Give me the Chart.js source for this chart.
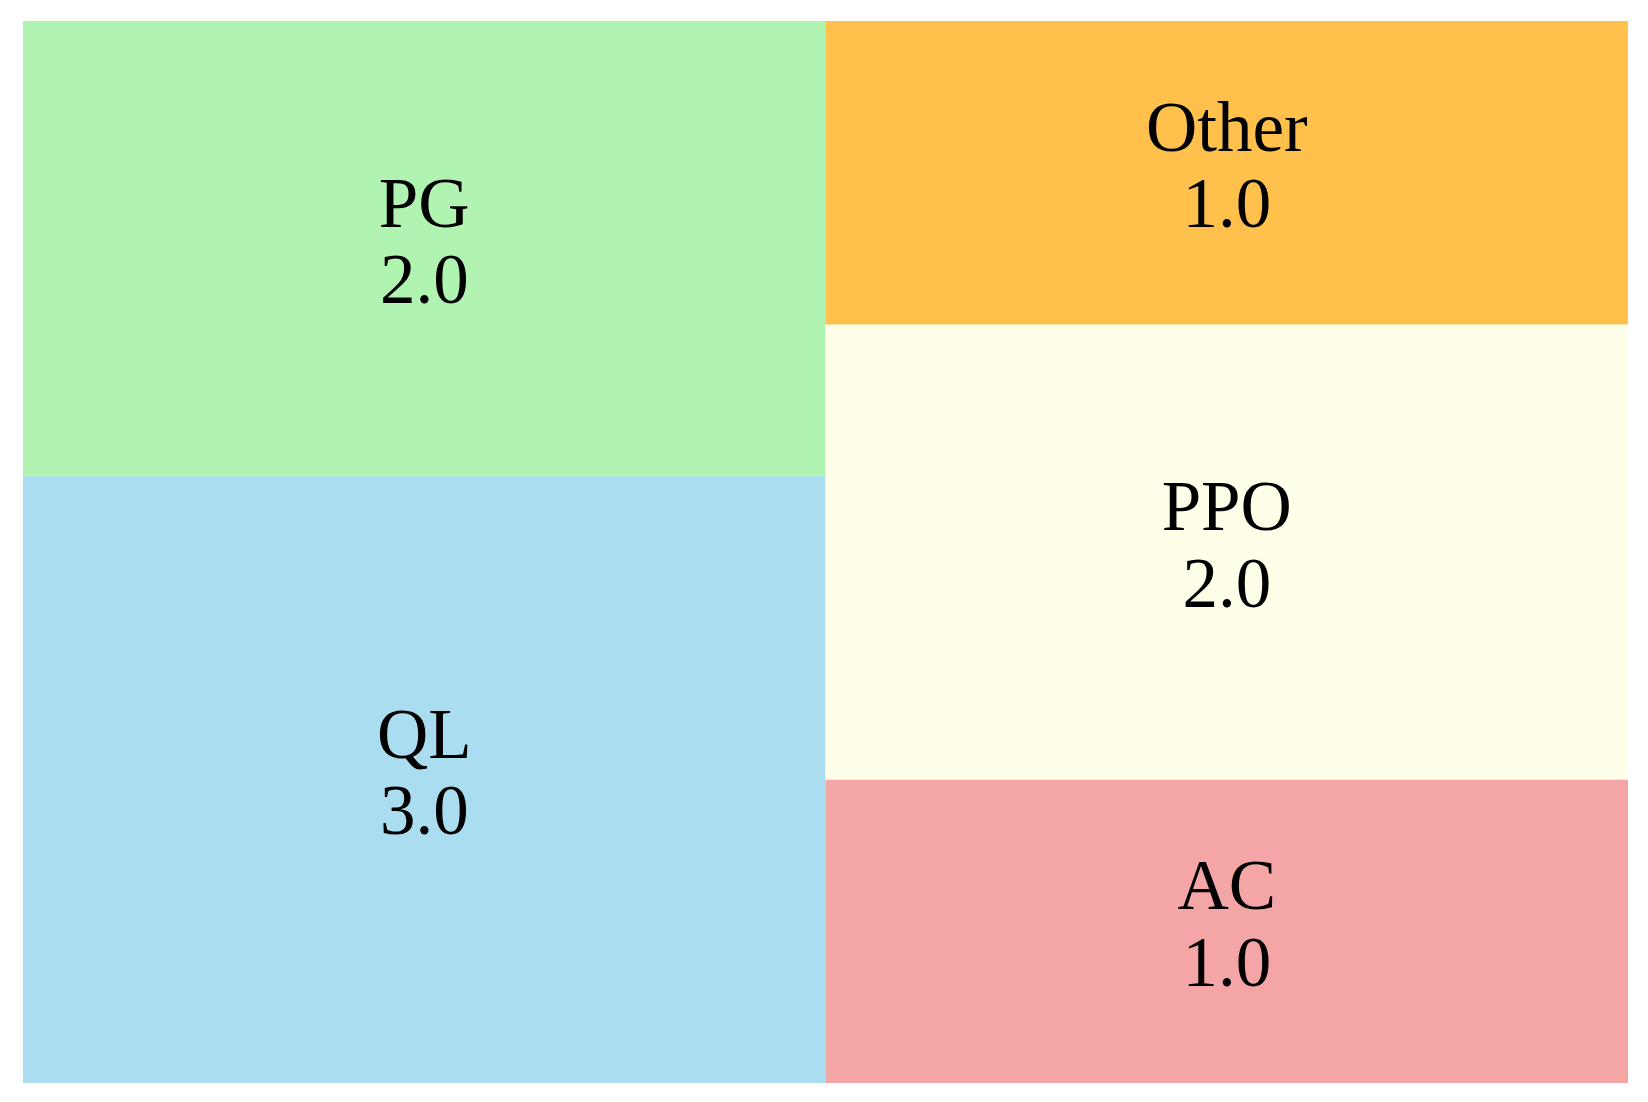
<!DOCTYPE html>
<html>
<head>
<meta charset="utf-8">
<script src="https://cdn.jsdelivr.net/npm/chart.js@4/dist/chart.umd.min.js"></script>
<style>
  html, body { margin: 0; padding: 0; background: #ffffff; }
  #wrap { width: 1648px; height: 1102px; }
</style>
</head>
<body>
<div id="wrap"><canvas id="c" width="1648" height="1102"></canvas></div>
<script>
// Data (order as laid out by squarify)
const categories = ['QL', 'PG', 'AC', 'PPO', 'Other'];
const labelValues = [3.0, 2.0, 1.0, 2.0, 1.0];   // values printed in the tiles
const tileSizes = [4, 3, 2, 3, 2];               // relative tile areas as measured
const tileColors = ['#87CEEB', '#90EE90', '#F08080', '#FFFFE0', '#FFA500'];
const tileAlpha = 0.7;

// squarify layout (same algorithm as python squarify), in data units 0..100
function normalize(sizes, dx, dy) {
  const total = sizes.reduce((a, b) => a + b, 0);
  return sizes.map(s => s * dx * dy / total);
}
function layoutrow(sizes, x, y, dx, dy) {
  const covered = sizes.reduce((a, b) => a + b, 0);
  const width = covered / dy;
  const rects = [];
  for (const s of sizes) { rects.push({x: x, y: y, dx: width, dy: s / width}); y += s / width; }
  return rects;
}
function layoutcol(sizes, x, y, dx, dy) {
  const covered = sizes.reduce((a, b) => a + b, 0);
  const height = covered / dx;
  const rects = [];
  for (const s of sizes) { rects.push({x: x, y: y, dx: s / height, dy: height}); x += s / height; }
  return rects;
}
function layout(sizes, x, y, dx, dy) {
  return dx >= dy ? layoutrow(sizes, x, y, dx, dy) : layoutcol(sizes, x, y, dx, dy);
}
function leftoverrow(sizes, x, y, dx, dy) {
  const covered = sizes.reduce((a, b) => a + b, 0);
  const width = covered / dy;
  return [x + width, y, dx - width, dy];
}
function leftovercol(sizes, x, y, dx, dy) {
  const covered = sizes.reduce((a, b) => a + b, 0);
  const height = covered / dx;
  return [x, y + height, dx, dy - height];
}
function leftover(sizes, x, y, dx, dy) {
  return dx >= dy ? leftoverrow(sizes, x, y, dx, dy) : leftovercol(sizes, x, y, dx, dy);
}
function worst(sizes, x, y, dx, dy) {
  return Math.max(...layout(sizes, x, y, dx, dy).map(r => Math.max(r.dx / r.dy, r.dy / r.dx)));
}
function squarify(sizes, x, y, dx, dy) {
  if (sizes.length === 0) return [];
  if (sizes.length === 1) return layout(sizes, x, y, dx, dy);
  let i = 1;
  while (i < sizes.length && worst(sizes.slice(0, i), x, y, dx, dy) >= worst(sizes.slice(0, i + 1), x, y, dx, dy)) i++;
  const current = sizes.slice(0, i);
  const remaining = sizes.slice(i);
  const [lx, ly, ldx, ldy] = leftover(current, x, y, dx, dy);
  return layout(current, x, y, dx, dy).concat(squarify(remaining, lx, ly, ldx, ldy));
}

const rects = squarify(normalize(tileSizes, 100, 100), 0, 0, 100, 100);

function hexToRgba(hex, a) {
  const n = parseInt(hex.slice(1), 16);
  return `rgba(${(n >> 16) & 255},${(n >> 8) & 255},${n & 255},${a})`;
}

const treemapPlugin = {
  id: 'treemapTiles',
  beforeDatasetsDraw(chart) {
    const {ctx, scales: {x, y}} = chart;
    ctx.save();
    rects.forEach((r, i) => {
      const left = x.getPixelForValue(r.x);
      const right = x.getPixelForValue(r.x + r.dx);
      const top = y.getPixelForValue(r.y + r.dy);
      const bottom = y.getPixelForValue(r.y);
      ctx.fillStyle = hexToRgba(tileColors[i], tileAlpha);
      ctx.fillRect(left, top, right - left, bottom - top);
    });
    const fs = 71;
    ctx.fillStyle = '#000000';
    ctx.font = `${fs}px "Liberation Serif", "Times New Roman", serif`;
    ctx.textAlign = 'center';
    ctx.textBaseline = 'alphabetic';
    rects.forEach((r, i) => {
      const cx = x.getPixelForValue(r.x + r.dx / 2);
      const cy = y.getPixelForValue(r.y + r.dy / 2);
      ctx.fillText(categories[i], cx, cy - 0.31 * fs);
      ctx.fillText(labelValues[i].toFixed(1), cx, cy + 0.77 * fs);
    });
    ctx.restore();
  }
};

new Chart(document.getElementById('c'), {
  type: 'scatter',
  data: {
    datasets: [{
      label: 'tiles',
      data: rects.map((r, i) => ({x: r.x + r.dx / 2, y: r.y + r.dy / 2})),
      pointRadius: 0,
      pointHoverRadius: 0
    }]
  },
  options: {
    responsive: false,
    animation: false,
    events: [],
    layout: { padding: { left: 23, top: 21, right: 20, bottom: 19 } },
    plugins: { legend: { display: false }, tooltip: { enabled: false } },
    scales: {
      x: { type: 'linear', min: 0, max: 100, display: false },
      y: { type: 'linear', min: 0, max: 100, display: false }
    }
  },
  plugins: [treemapPlugin]
});
</script>
</body>
</html>
